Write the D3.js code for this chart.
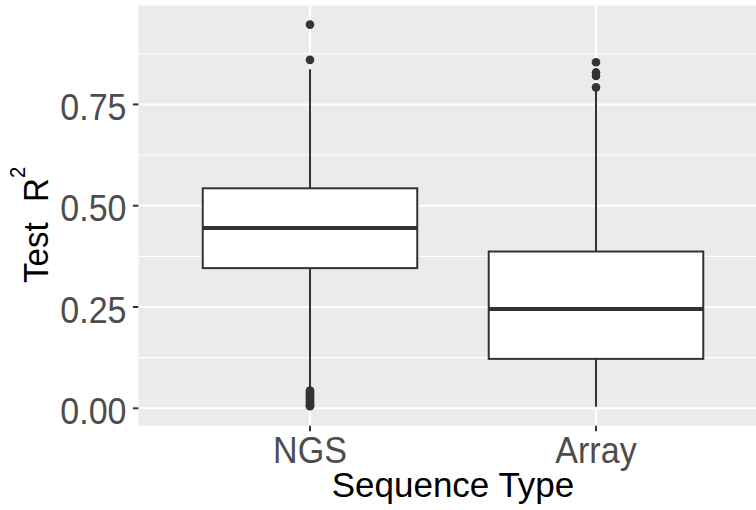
<!DOCTYPE html>
<html>
<head>
<meta charset="utf-8">
<script src="https://cdn.jsdelivr.net/npm/d3@7"></script>
<style>
  body { margin: 0; background: white; }
  svg { display: block; font-family: "Liberation Sans", Arial, sans-serif; }
</style>
</head>
<body>
<script>
// categories and five-number summaries
var categories = ["NGS", "Array"];
var lowerWhisker = [0.050, 0.004];
var q1 = [0.346, 0.122];
var medians = [0.445, 0.245];
var q3 = [0.543, 0.387];
var upperWhisker = [0.837, 0.790];
var ngsOutliers = [0.947, 0.860, 0.044, 0.041, 0.037, 0.033, 0.030, 0.026, 0.022, 0.018, 0.014, 0.010, 0.007, 0.005];
var arrayOutliers = [0.854, 0.829, 0.820, 0.792];
var yTicks = [0, 0.25, 0.5, 0.75];
var yMinor = [0.125, 0.375, 0.625, 0.875];

var width = 756, height = 510;
var panel = { left: 138.4, top: 5.5, right: 767.6, bottom: 425.8 };
var squeeze = 0.92; // the reference font is a bit narrower than Liberation Sans

var boxes = categories.map(function(c, i) {
  return { cat: c, lo: lowerWhisker[i], q1: q1[i], med: medians[i], q3: q3[i], hi: upperWhisker[i],
           out: i == 0 ? ngsOutliers : arrayOutliers };
});

var allVals = [];
boxes.forEach(function(b) { allVals = allVals.concat([b.lo, b.hi], b.out); });
var ext = d3.extent(allVals);
var pad = (ext[1] - ext[0]) * 0.05;

var y = d3.scaleLinear()
  .domain([ext[0] - pad, ext[1] + pad])
  .range([panel.bottom, panel.top]);

var x = d3.scalePoint()
  .domain(categories)
  .range([panel.left, panel.right])
  .padding(0.6);

var boxW = x.step() * 0.75;

var svg = d3.select("body").append("svg")
  .attr("width", width)
  .attr("height", height);

svg.append("rect")
  .attr("x", panel.left)
  .attr("y", panel.top)
  .attr("width", panel.right - panel.left)
  .attr("height", panel.bottom - panel.top)
  .style("fill", "#EBEBEB");

var grid = svg.append("g");
grid.selectAll(".minor").data(yMinor).enter().append("line")
  .attr("x1", panel.left).attr("x2", panel.right)
  .attr("y1", function(d) { return y(d); }).attr("y2", function(d) { return y(d); })
  .style("stroke", "white").style("stroke-width", 1.1);
grid.selectAll(".major").data(yTicks).enter().append("line")
  .attr("x1", panel.left).attr("x2", panel.right)
  .attr("y1", function(d) { return y(d); }).attr("y2", function(d) { return y(d); })
  .style("stroke", "white").style("stroke-width", 2.1);
grid.selectAll(".vmajor").data(categories).enter().append("line")
  .attr("x1", function(d) { return x(d); }).attr("x2", function(d) { return x(d); })
  .attr("y1", panel.top).attr("y2", panel.bottom)
  .style("stroke", "white").style("stroke-width", 2.1);

var ink = "#333333";
var g = svg.selectAll(".box").data(boxes).enter().append("g");

g.append("line")
  .attr("x1", function(d) { return x(d.cat); }).attr("x2", function(d) { return x(d.cat); })
  .attr("y1", function(d) { return y(d.hi); }).attr("y2", function(d) { return y(d.q3); })
  .style("stroke", ink).style("stroke-width", 2);
g.append("line")
  .attr("x1", function(d) { return x(d.cat); }).attr("x2", function(d) { return x(d.cat); })
  .attr("y1", function(d) { return y(d.q1); }).attr("y2", function(d) { return y(d.lo); })
  .style("stroke", ink).style("stroke-width", 2);
g.append("rect")
  .attr("x", function(d) { return x(d.cat) - boxW / 2; })
  .attr("width", boxW)
  .attr("y", function(d) { return y(d.q3); })
  .attr("height", function(d) { return y(d.q1) - y(d.q3); })
  .style("fill", "white").style("stroke", ink).style("stroke-width", 2);
g.append("line")
  .attr("x1", function(d) { return x(d.cat) - boxW / 2; }).attr("x2", function(d) { return x(d.cat) + boxW / 2; })
  .attr("y1", function(d) { return y(d.med); }).attr("y2", function(d) { return y(d.med); })
  .style("stroke", ink).style("stroke-width", 4);
g.selectAll(".out").data(function(d) { return d.out.map(function(v) { return { cat: d.cat, v: v }; }); })
  .enter().append("circle")
  .attr("cx", function(d) { return x(d.cat); })
  .attr("cy", function(d) { return y(d.v); })
  .attr("r", 4.3)
  .style("fill", ink);

// axes
var yAxis = svg.append("g");
yAxis.selectAll("line").data(yTicks).enter().append("line")
  .attr("x1", panel.left - 5.5).attr("x2", panel.left)
  .attr("y1", function(d) { return y(d); }).attr("y2", function(d) { return y(d); })
  .style("stroke", ink).style("stroke-width", 2);
yAxis.selectAll("text").data(yTicks).enter().append("text")
  .attr("transform", function(d) { return "translate(126.5," + (y(d) + 15.5) + ") scale(" + squeeze + ",1)"; })
  .attr("text-anchor", "end")
  .style("font-size", "37px").style("fill", "#4D4D4D")
  .text(d3.format(".2f"));

var xAxis = svg.append("g");
xAxis.selectAll("line").data(categories).enter().append("line")
  .attr("x1", function(d) { return x(d); }).attr("x2", function(d) { return x(d); })
  .attr("y1", panel.bottom).attr("y2", panel.bottom + 5.5)
  .style("stroke", ink).style("stroke-width", 2);
xAxis.selectAll("text").data(categories).enter().append("text")
  .attr("transform", function(d) { return "translate(" + x(d) + ",462.5) scale(" + squeeze + ",1)"; })
  .attr("text-anchor", "middle")
  .style("font-size", "37px").style("fill", "#4D4D4D")
  .text(function(d) { return d; });

svg.append("text")
  .attr("x", (panel.left + panel.right) / 2)
  .attr("y", 497)
  .attr("text-anchor", "middle")
  .style("font-size", "35px").style("fill", "black")
  .text("Sequence Type");

var yt = svg.append("text")
  .attr("transform", "translate(48,283) rotate(-90) scale(" + squeeze + ",1)")
  .style("font-size", "36px").style("fill", "black");
yt.append("tspan").text("Test");
yt.append("tspan").attr("dx", 22).text("R");
yt.append("tspan").attr("dy", -23).style("font-size", "22px").text("2");
</script>
</body>
</html>
